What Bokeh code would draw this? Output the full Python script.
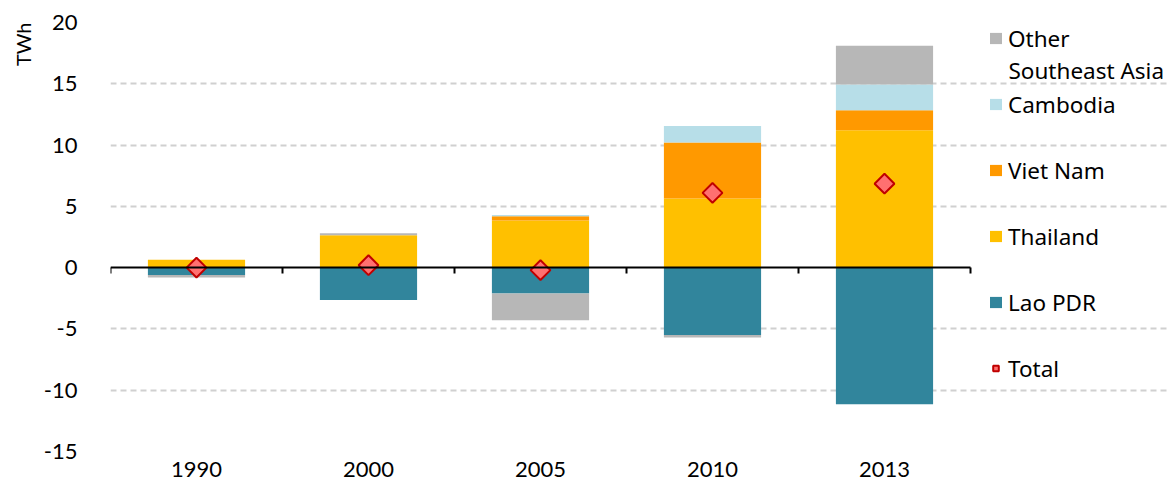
import numpy as np
from bokeh.plotting import figure
from bokeh.models import (Legend, LegendItem, LinearAxis, FixedTicker, Range1d, Title, Label)
from bokeh.embed import file_html
from bokeh.resources import INLINE

# ---- data (TWh) ----
years = ["1990", "2000", "2005", "2010", "2013"]
lao_pdr = [-0.6, -2.65, -2.1, -5.5, -11.15]
thailand = [0.65, 2.65, 3.85, 5.65, 11.2]
viet_nam = [0.0, 0.0, 0.35, 4.55, 1.65]
cambodia = [0.0, 0.0, 0.1, 1.35, 2.1]
other_sea = [-0.2, 0.15, -2.2, -0.2, 3.15]
total = [0.0, 0.2, -0.2, 6.1, 6.85]

series = [
    ("Lao PDR", lao_pdr, "#31859C"),
    ("Thailand", thailand, "#FFC000"),
    ("Viet Nam", viet_nam, "#FF9900"),
    ("Cambodia", cambodia, "#B7DEE8"),
    ("Other", other_sea, "#B7B7B7"),
]
legend_order = ["Other", "Cambodia", "Viet Nam", "Thailand", "Lao PDR"]
y_ticks = [-15, -10, -5, 0, 5, 10, 15, 20]

AX_FONT = "Lato"
LG_FONT = "Noto Sans"

n = len(years)
legend_room = 1.157  # extra x-range (in category widths) to host the legend
p = figure(width=1169, height=480, output_backend="svg", toolbar_location=None,
           x_range=Range1d(-0.5, n - 0.5 + legend_room), y_range=Range1d(-15, 20),
           min_border_left=110, min_border_right=0, min_border_top=22,
           min_border_bottom=29)
p.outline_line_color = None
p.background_fill_color = "white"

x = np.arange(n)
pos_base = np.zeros(n)
neg_base = np.zeros(n)
renderers = {}
for name, vals, col in series:
    v = np.array(vals, dtype=float)
    bottom = np.where(v >= 0, pos_base, neg_base)
    top = bottom + v
    pos_base = np.where(v >= 0, top, pos_base)
    neg_base = np.where(v < 0, top, neg_base)
    r = p.vbar(x=x, bottom=bottom, top=top, width=0.565,
               fill_color=col, line_color=None)
    renderers[name] = r

rt = p.scatter(x=x, y=total, marker="square", angle=np.pi / 4, size=14,
               fill_color="#FF7070", line_color="#C00000", line_width=2)

# bottom category labels
xa = p.xaxis[0]
xa.ticker = FixedTicker(ticks=list(x))
xa.major_label_overrides = {int(i): y for i, y in zip(x, years)}
xa.axis_line_color = None
xa.major_tick_line_color = None
xa.minor_tick_line_color = None
xa.major_label_standoff = 4
xa.major_label_text_font = AX_FONT
xa.major_label_text_font_size = "22px"
xa.major_label_text_color = "black"

# zero line axis with ticks at category boundaries (no labels)
bounds_ticks = [float(t) for t in (np.arange(n + 1) - 0.5)]
zax = LinearAxis(fixed_location=0, bounds=(-0.5, n - 0.5),
                 ticker=FixedTicker(ticks=bounds_ticks),
                 major_label_overrides={t: "" for t in bounds_ticks},
                 axis_line_color="black", axis_line_width=2,
                 major_tick_line_color="black", major_tick_line_width=2,
                 major_tick_in=6, major_tick_out=0,
                 minor_tick_line_color=None,
                 major_label_text_font_size="10px", major_label_standoff=0)
p.add_layout(zax, "above")

ya = p.yaxis[0]
ya.ticker = FixedTicker(ticks=y_ticks)
ya.major_label_overrides = {t: str(t) for t in y_ticks}
ya.axis_line_color = None
ya.major_tick_line_color = None
ya.minor_tick_line_color = None
ya.major_label_standoff = 27
ya.major_label_text_font = AX_FONT
ya.major_label_text_font_size = "22px"
ya.major_label_text_color = "black"

p.xgrid.visible = False
p.ygrid.ticker = FixedTicker(ticks=[t for t in y_ticks if t != 0])
p.ygrid.bounds = (-0.5, n - 0.5)
p.ygrid.grid_line_color = "#D0D0D0"
p.ygrid.grid_line_width = 2
p.ygrid.grid_line_dash = "6 4"

p.add_layout(Title(text="TWh", align="right", text_font=AX_FONT,
                   text_font_size="20px", text_font_style="normal",
                   text_color="black", standoff=12), "left")

items = [LegendItem(label=nm, renderers=[renderers[nm]]) for nm in legend_order]
items.append(LegendItem(label="Total", renderers=[rt]))
legend = Legend(items=items, location=(878, 67.5), padding=0, margin=0, spacing=35,
                border_line_color=None, background_fill_alpha=0,
                glyph_width=15, glyph_height=14, label_standoff=5,
                label_text_font=LG_FONT, label_text_font_size="22.5px",
                label_text_color="black", label_height=25)
p.add_layout(legend, "center")

p.add_layout(Label(x=898, y=381.5, x_units="screen", y_units="screen",
                   text="Southeast Asia", text_baseline="middle",
                   text_font=LG_FONT, text_font_size="22.5px", text_color="black"))

open("out.html", "w").write(file_html(p, INLINE))
